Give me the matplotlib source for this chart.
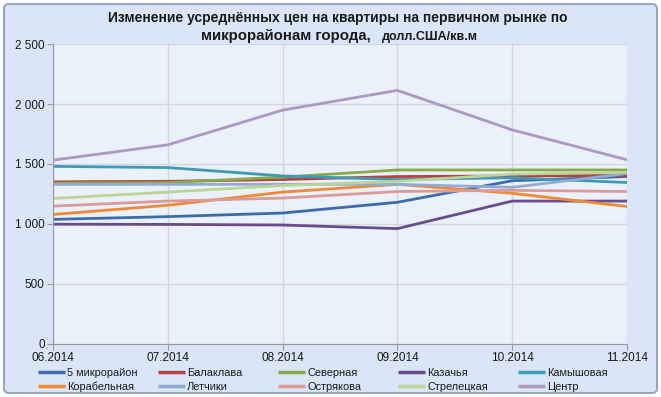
import matplotlib
matplotlib.use("Agg")
import matplotlib.pyplot as plt
from matplotlib.patches import FancyBboxPatch
from matplotlib.lines import Line2D
from matplotlib.ticker import FuncFormatter

months = ["06.2014", "07.2014", "08.2014", "09.2014", "10.2014", "11.2014"]
names = ["5 микрорайон", "Балаклава", "Северная", "Казачья", "Камышовая",
         "Корабельная", "Летчики", "Острякова", "Стрелецкая", "Центр"]
colors = ["#3D6CAB", "#B8413E", "#86A94A", "#6A4C8C", "#3E9BB5",
          "#EE8A35", "#91ACD4", "#DC9A98", "#BCD495", "#AB98C3"]

v_5mkr = [1037, 1060, 1090, 1180, 1360, 1395]
v_balaklava = [1351, 1355, 1370, 1395, 1400, 1405]
v_severnaya = [1340, 1345, 1390, 1450, 1450, 1450]
v_kazachya = [997, 995, 990, 960, 1190, 1190]
v_kamyshovaya = [1480, 1470, 1400, 1370, 1385, 1345]
v_korabelnaya = [1078, 1155, 1265, 1330, 1255, 1145]
v_letchiki = [1329, 1330, 1330, 1330, 1305, 1420]
v_ostryakova = [1148, 1190, 1215, 1270, 1280, 1270]
v_streletskaya = [1212, 1265, 1320, 1355, 1415, 1430]
v_centr = [1532, 1660, 1950, 2115, 1785, 1535]

series = [v_5mkr, v_balaklava, v_severnaya, v_kazachya, v_kamyshovaya,
          v_korabelnaya, v_letchiki, v_ostryakova, v_streletskaya, v_centr]

font = ["Liberation Sans", "DejaVu Sans"]
plt.rcParams["font.family"] = font

W, H = 661, 397
fig = plt.figure(figsize=(W / 100, H / 100), dpi=100)
fig.patch.set_facecolor("white")

bgax = fig.add_axes([0, 0, 1, 1], zorder=-5)
bgax.set_axis_off()
bgax.set_xlim(0, W)
bgax.set_ylim(H, 0)
bg = FancyBboxPatch((4, 4), W - 8, H - 8, boxstyle="round,pad=0,rounding_size=5",
                    facecolor="#DAE5F7", edgecolor="#98A6BC", linewidth=1.5)
bgax.add_patch(bg)

ax = fig.add_axes([53 / W, 1 - 343.5 / H, (627 - 53) / W, (343.5 - 44.3) / H], zorder=1)
ax.set_facecolor("#EAF1FB")
x = list(range(len(months)))
for name, vals, c in zip(names, series, colors):
    ax.plot(x, vals, color=c, lw=2.0, label=name, solid_capstyle="butt")

ax.set_xlim(0, len(months) - 1)
ax.set_ylim(0, 2500)
ax.set_yticks([0, 500, 1000, 1500, 2000, 2500])
ax.yaxis.set_major_formatter(FuncFormatter(lambda v, p: f"{int(v):,}".replace(",", " ")))
ax.set_xticks(x)
ax.set_xticklabels(months)
ax.grid(True, color="#D3D6DB", lw=1.0)
ax.set_axisbelow(True)
for s in ["top", "right"]:
    ax.spines[s].set_visible(False)
for s in ["left", "bottom"]:
    ax.spines[s].set_color("#9A9A9A")
ax.tick_params(axis="both", colors="#9A9A9A", labelcolor="#1A1A1A", labelsize=8.5, length=4)
ax.tick_params(axis="x", pad=2)
ax.tick_params(axis="y", pad=2)

# title
bgax.text(338, 18, "Изменение усреднённых цен на квартиры на первичном рынке по",
          ha="center", va="center", fontsize=10, fontweight="bold", color="#1A1A1A")
bgax.text(371, 36, "микрорайонам города,", ha="right", va="center", fontsize=10.8,
          fontweight="bold", color="#1A1A1A")
bgax.text(382, 37, "долл.США/кв.м", ha="left", va="center", fontsize=9,
          fontweight="bold", color="#1A1A1A")

# legend (two rows of five)
col_x = [38, 158, 278, 398, 518]
row_y = [372, 385.5]
for i, (name, c) in enumerate(zip(names, colors)):
    cx = col_x[i % 5]
    cy = row_y[i // 5]
    bgax.add_line(Line2D([cx, cx + 27], [cy, cy], color=c, lw=2.5, solid_capstyle="butt"))
    bgax.text(cx + 29, cy + 4, name, ha="left", va="baseline", fontsize=7.9, color="#1A1A1A")

fig.savefig("out.png", dpi=100, facecolor=fig.get_facecolor())
